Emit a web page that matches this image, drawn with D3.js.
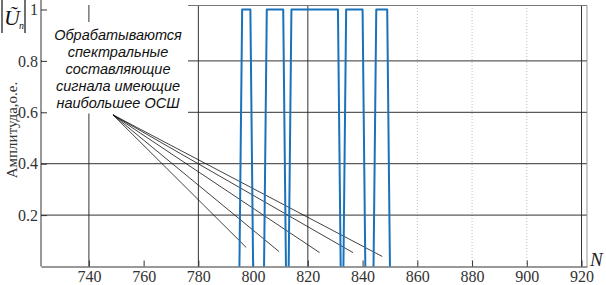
<!DOCTYPE html>
<html>
<head>
<meta charset="utf-8">
<script src="https://cdn.jsdelivr.net/npm/d3@7"></script>
<style>
  body { margin: 0; background: #fff; }
  svg { display: block; }
  .serif { font-family: "Times New Roman", "Liberation Serif", "DejaVu Serif", serif; }
  .note { font-family: "Liberation Sans", Arial, sans-serif; font-style: italic; font-size: 14.5px; fill: #111; }
</style>
</head>
<body>
<div id="chart"></div>
<script>
var svgWidth = 606;
var svgHeight = 285;

// data
var xTicks = [740, 760, 780, 800, 820, 840, 860, 880, 900, 920];
var yTicks = [0.2, 0.4, 0.6, 0.8, 1];
var gridDark = [740, 780, 820, 920];
var gridFaint = [860, 880, 900];
var gridY = [0.2, 0.4, 0.6, 0.8];

// pulses: first and last sample equal to 1 (value 0 one sample outside)
var pulseStart = [796, 805, 814, 834, 845];
var pulseEnd = [799, 811, 831, 840, 849];

// annotation arrows: common origin and the five end points (N, amplitude)
var noteOrigin = [748.8, 0.59];
var noteTargetsN = [797.5, 809.5, 824.3, 836.5, 847.2];
var noteTargetsA = [0.074, 0.058, 0.054, 0.054, 0.039];
var noteLines = ["Обрабатываются", "спектральные", "составляющие", "сигнала имеющие", "наибольшее ОСШ"];

var margin = { top: 5, right: 19, bottom: 18.5, left: 41 };
var width = svgWidth - margin.left - margin.right;
var height = svgHeight - margin.top - margin.bottom;

var svg = d3.select("#chart")
    .append("svg")
    .attr("width", svgWidth)
    .attr("height", svgHeight);

var chartGroup = svg.append("g")
    .attr("transform", `translate(${margin.left}, ${margin.top})`);

var xScale = d3.scaleLinear().domain([722.5, 922]).range([0, width]);
var yScale = d3.scaleLinear().domain([0, 1.0175]).range([height, 0]);

// grid
chartGroup.selectAll(".gx").data(gridDark).enter().append("line")
    .attr("x1", d => xScale(d)).attr("x2", d => xScale(d))
    .attr("y1", 0).attr("y2", height)
    .attr("stroke", "#333").attr("stroke-width", 1);
chartGroup.selectAll(".gf").data(gridFaint).enter().append("line")
    .attr("x1", d => xScale(d)).attr("x2", d => xScale(d))
    .attr("y1", 0).attr("y2", height)
    .attr("stroke", "#bbb").attr("stroke-width", 1).attr("stroke-dasharray", "1,2");
chartGroup.selectAll(".gy").data(gridY).enter().append("line")
    .attr("x1", 0).attr("x2", width)
    .attr("y1", d => yScale(d)).attr("y2", d => yScale(d))
    .attr("stroke", "#333").attr("stroke-width", 1);

// white patch behind the note (hides grid there)
var boxLeft = 1, boxRight = 147, boxTop = 17, boxBottom = 108.5;
chartGroup.append("rect")
    .attr("x", boxLeft).attr("y", boxTop)
    .attr("width", boxRight - boxLeft).attr("height", boxBottom - boxTop)
    .attr("fill", "#fff");

// frame
chartGroup.append("line")
    .attr("x1", boxRight).attr("x2", width).attr("y1", 0.5).attr("y2", 0.5)
    .attr("stroke", "#777");
chartGroup.append("line")
    .attr("x1", width).attr("x2", width).attr("y1", 0).attr("y2", height)
    .attr("stroke", "#999");

// axes with inward ticks
var bottomAxis = d3.axisBottom(xScale).tickValues(xTicks).tickSizeInner(-6).tickSizeOuter(0).tickPadding(5);
var leftAxis = d3.axisLeft(yScale).tickValues(yTicks).tickSizeInner(-6).tickSizeOuter(0).tickPadding(3)
    .tickFormat(d => d === 1 ? "1" : d3.format(".1f")(d));

var gx = chartGroup.append("g")
    .attr("transform", `translate(0, ${height})`)
    .call(bottomAxis);
var gy = chartGroup.append("g")
    .call(leftAxis);
[gx, gy].forEach(function(g) {
    g.attr("font-family", null).attr("font-size", null);
    g.select(".domain").attr("stroke", "#333");
    g.selectAll(".tick line").attr("stroke", "#333");
    g.selectAll(".tick text")
        .attr("class", "serif")
        .style("font-size", "16px")
        .attr("fill", "#333");
});
gx.selectAll(".tick text").attr("dy", "0").attr("y", 15.5);
gy.select(".domain").attr("d", `M0,${-margin.top}V${height}`);

// annotation arrows
var noteTargets = noteTargetsN.map((n, i) => [n, noteTargetsA[i]]);
chartGroup.selectAll(".arrow").data(noteTargets).enter().append("line")
    .attr("x1", xScale(noteOrigin[0])).attr("y1", yScale(noteOrigin[1]))
    .attr("x2", d => xScale(d[0])).attr("y2", d => yScale(d[1]))
    .attr("stroke", "#111").attr("stroke-width", 0.8);

// pulses
var line = d3.line().x(d => xScale(d[0])).y(d => yScale(d[1]));
var pulses = pulseStart.map((s, i) => [[s - 1, 0], [s, 1], [pulseEnd[i], 1], [pulseEnd[i] + 1, 0]]);
chartGroup.selectAll(".pulse").data(pulses).enter().append("path")
    .attr("d", line)
    .attr("fill", "none")
    .attr("stroke", "#1a72bb")
    .attr("stroke-width", 2)
    .attr("stroke-linejoin", "round");

// note text
chartGroup.append("text")
    .attr("class", "note")
    .attr("text-anchor", "middle")
    .selectAll("tspan")
    .data(noteLines)
    .enter()
    .append("tspan")
        .attr("x", 77)
        .attr("y", (d, i) => 35 + i * 17)
        .text(d => d);

// axis titles
svg.append("text")
    .attr("class", "serif")
    .attr("transform", "translate(17, 130) rotate(-90)")
    .attr("text-anchor", "middle")
    .style("font-size", "15px")
    .attr("fill", "#333")
    .text("Амплитуда,о.е.");

svg.append("text")
    .attr("class", "serif")
    .attr("x", 590).attr("y", 266)
    .style("font-style", "italic")
    .style("font-size", "19px")
    .attr("fill", "#222")
    .text("N");

// |U~n| label
var uLabel = svg.append("g");
uLabel.append("line").attr("x1", 2).attr("x2", 2).attr("y1", 0).attr("y2", 33).attr("stroke", "#111").attr("stroke-width", 1.2);
uLabel.append("line").attr("x1", 25).attr("x2", 25).attr("y1", 0).attr("y2", 33).attr("stroke", "#111").attr("stroke-width", 1.2);
uLabel.append("text")
    .attr("class", "serif")
    .attr("x", 4).attr("y", 25)
    .style("font-style", "italic")
    .style("font-size", "22px")
    .attr("fill", "#111")
    .text("Ũ");
uLabel.append("text")
    .attr("class", "serif")
    .attr("x", 19).attr("y", 29)
    .style("font-style", "italic")
    .style("font-size", "10px")
    .attr("fill", "#111")
    .text("n");
</script>
</body>
</html>
